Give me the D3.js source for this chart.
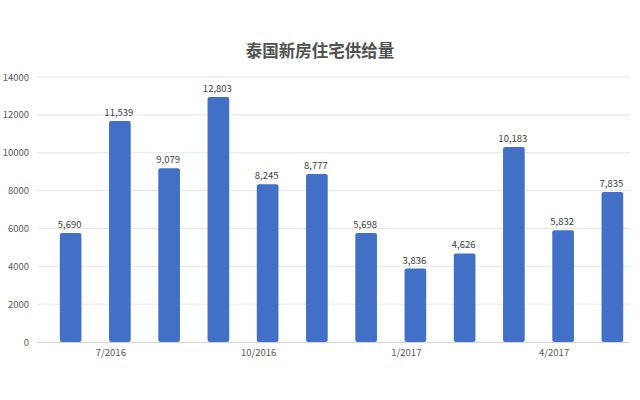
<!DOCTYPE html>
<html><head><meta charset="utf-8">
<script src="https://cdn.jsdelivr.net/npm/d3@7"></script>
<style>body{margin:0;background:#fff;}svg{display:block;}</style>
</head><body>
<svg id="c" width="640" height="400"></svg>
<script>
const title = "泰国新房住宅供给量";
const months = ["6/2016","7/2016","8/2016","9/2016","10/2016","11/2016","12/2016","1/2017","2/2017","3/2017","4/2017","5/2017"];
const supply = [5690, 11539, 9079, 12803, 8245, 8777, 5698, 3836, 4626, 10183, 5832, 7835];
const shownMonthLabels = ["7/2016","10/2016","1/2017","4/2017"];
const yTicks = [0,2000,4000,6000,8000,10000,12000,14000];

const svg = d3.select("#c");
const font = "'Noto Sans CJK SC','Noto Sans',sans-serif";

const y = d3.scaleLinear().domain([0,14000]).range([342,77]);
const yBar = d3.scaleLinear().domain([0,14000]).range([342,74]);
const xAxisScale = d3.scaleBand().domain(months).range([37,628]).paddingInner(0.56).paddingOuter(0.28);
const xBar = d3.scaleBand().domain(months).range([46,637]).paddingInner(0.56).paddingOuter(0.28);

// title
svg.append("text").attr("x",320).attr("y",57).attr("text-anchor","middle")
  .attr("font-family",font).attr("font-size",16.5).attr("font-weight","bold").attr("fill","#505050").text(title);

// gridlines
svg.append("g").selectAll("line").data(yTicks.filter(d=>d>0)).join("line")
  .attr("x1",37).attr("x2",630).attr("y1",d=>y(d)).attr("y2",d=>y(d))
  .attr("stroke","#e6e6e6").attr("stroke-width",1);

// y axis labels
const yAxis = d3.axisLeft(y).tickValues(yTicks).tickSize(0).tickPadding(0).tickFormat(d3.format("d"));
const ga = svg.append("g").attr("transform","translate(29,0)").call(yAxis);
ga.select(".domain").remove();
ga.selectAll("text").attr("font-family",font).attr("font-size",9.5).attr("fill","#595959");

// bars
svg.append("g").selectAll("rect").data(supply).join("rect")
  .attr("x",(d,i)=>xBar(months[i])).attr("width",xBar.bandwidth())
  .attr("y",d=>yBar(d)).attr("height",d=>yBar(0)-yBar(d))
  .attr("rx",2).attr("fill","#4270c6");

// x axis line
svg.append("line").attr("x1",37).attr("x2",629).attr("y1",342.5).attr("y2",342.5)
  .attr("stroke","#d4d4d4").attr("stroke-width",1);

// x labels
const xAxis = d3.axisBottom(xAxisScale).tickValues(shownMonthLabels).tickSize(0).tickPadding(7);
const gx = svg.append("g").attr("transform","translate(0,342)").call(xAxis);
gx.select(".domain").remove();
gx.selectAll("text").attr("font-family",font).attr("font-size",9.5).attr("fill","#595959");

// value labels
svg.append("g").selectAll("text").data(supply).join("text")
  .attr("x",(d,i)=>xBar(months[i])+xBar.bandwidth()/2 - 1)
  .attr("y",d=>yBar(d)-5).attr("text-anchor","middle")
  .attr("font-family",font).attr("font-size",9.5).attr("fill","#404040")
  .text(d=>d3.format(",")(d));
</script>
</body></html>
